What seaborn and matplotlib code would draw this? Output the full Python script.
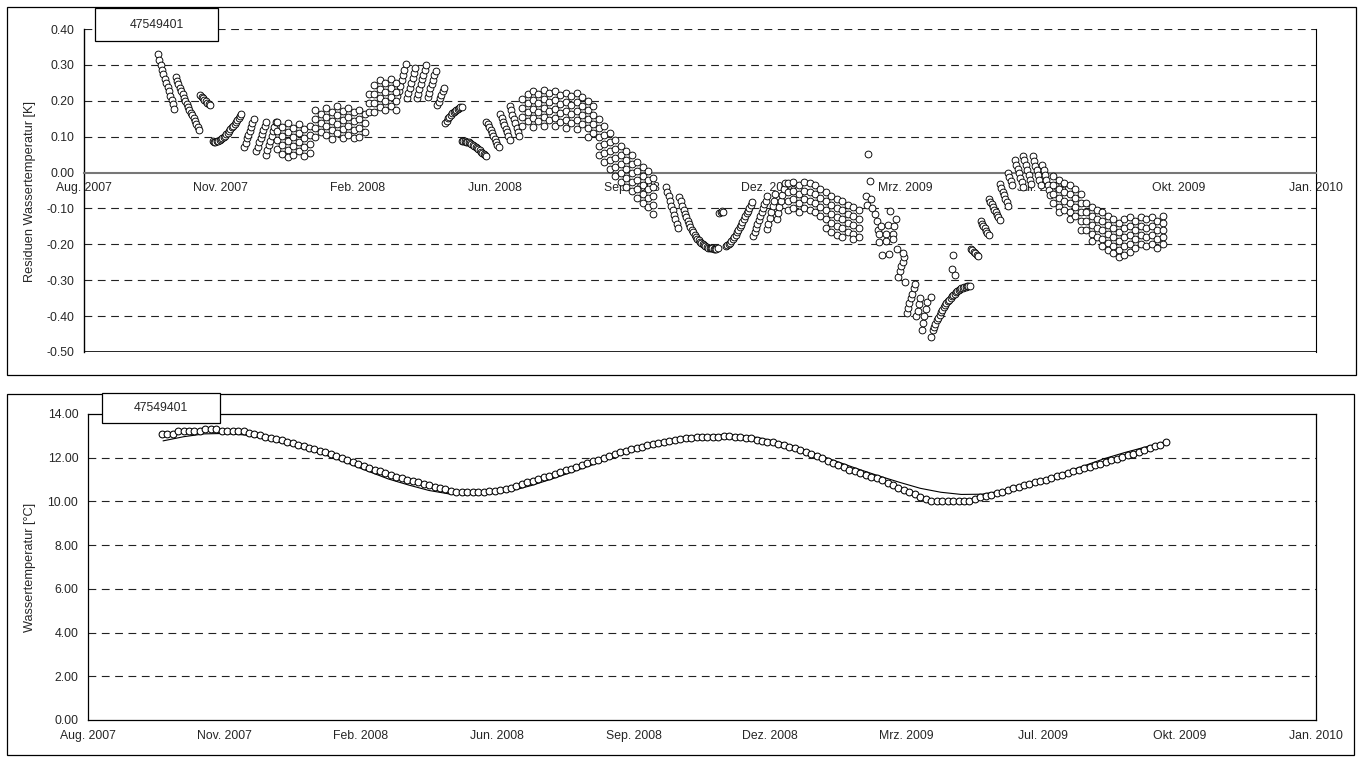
import numpy as np
import pandas as pd
import matplotlib
matplotlib.use("Agg")
import matplotlib.pyplot as plt
import matplotlib.dates as mdates
from matplotlib.patches import Rectangle
from matplotlib.ticker import FixedLocator, FuncFormatter
import seaborn as sns

# ==============================================
# DATEN
# ==============================================
MESSSTELLE = "47549401"
STARTDATUM = pd.Timestamp("2007-08-06")   # linker Achsenrand (Excel 39300)
ACHSE_TAGE = [0, 100, 200, 300, 400, 500, 600, 700, 800, 900]
MONATE = ["Jan.", "Feb.", "Mrz.", "Apr.", "Mai", "Jun.", "Jul.", "Aug.",
          "Sep.", "Okt.", "Nov.", "Dez."]

Y_RESID = [-0.5, -0.4, -0.3, -0.2, -0.1, 0.0, 0.1, 0.2, 0.3, 0.4]
Y_TEMP = [0, 2, 4, 6, 8, 10, 12, 14]

# Residuen: zusammenhaengende Tageslaeufe (erster Tag, Werte je Tag)
laeufe_2007 = [
    (54, [0.330, 0.315, 0.300, 0.287, 0.274, 0.262, 0.250, 0.238, 0.226, 0.214, 0.203, 0.190, 0.177]),
    (67, [0.265, 0.255, 0.246, 0.236, 0.227, 0.218, 0.209, 0.200, 0.191, 0.183, 0.175, 0.167,
          0.159, 0.151, 0.143, 0.135, 0.127, 0.119]),
    (85, [0.215, 0.211, 0.207, 0.203, 0.199, 0.195, 0.191, 0.187]),
    (94, [0.087, 0.086, 0.086, 0.087, 0.088, 0.090, 0.093, 0.096, 0.099, 0.103, 0.107, 0.111,
          0.116, 0.121, 0.126, 0.131, 0.136, 0.141, 0.147, 0.152, 0.158, 0.163]),
    (117, [0.072, 0.083, 0.095, 0.106, 0.117, 0.128, 0.139, 0.150]),
    (126, [0.060, 0.072, 0.084, 0.096, 0.108, 0.119, 0.131, 0.142]),
    (133, [0.050, 0.063, 0.076, 0.089, 0.102, 0.115, 0.128, 0.141]),
]

laeufe_2008 = [
    (229, [0.212, 0.227, 0.242, 0.257, 0.272, 0.287, 0.302]),
    (236, [0.208, 0.222, 0.236, 0.250, 0.264, 0.278, 0.292]),
    (243, [0.207, 0.220, 0.234, 0.247, 0.260, 0.273, 0.287, 0.300]),
    (251, [0.210, 0.222, 0.235, 0.247, 0.259, 0.271, 0.284]),
    (258, [0.188, 0.197, 0.207, 0.216, 0.226, 0.235]),
    (264, [0.138, 0.145, 0.151, 0.156, 0.161, 0.165, 0.169, 0.172, 0.175, 0.178, 0.180, 0.182, 0.184]),
    (276, [0.087, 0.087, 0.087, 0.086, 0.085, 0.084, 0.082, 0.080, 0.078, 0.075, 0.072, 0.069,
           0.066, 0.062, 0.058, 0.055, 0.051, 0.048, 0.045]),
    (294, [0.142, 0.134, 0.126, 0.118, 0.110, 0.102, 0.094, 0.086, 0.078, 0.070]),
    (304, [0.162, 0.152, 0.142, 0.132, 0.122, 0.112, 0.102, 0.092]),
    (311, [0.185, 0.173, 0.161, 0.149, 0.137, 0.125, 0.113, 0.101]),
    (425, [-0.040, -0.053, -0.066, -0.079, -0.092, -0.104, -0.117, -0.130, -0.142, -0.155]),
    (435, [-0.067, -0.080, -0.092, -0.104, -0.115, -0.125, -0.135, -0.144, -0.152, -0.160,
           -0.167, -0.173, -0.179, -0.184, -0.189, -0.193, -0.197, -0.200, -0.203, -0.205,
           -0.207, -0.209, -0.210, -0.211, -0.211, -0.212, -0.212, -0.212, -0.211]),
    (464, [-0.112, -0.110, -0.108, -0.110]),
    (469, [-0.205, -0.203, -0.200, -0.196, -0.191, -0.186, -0.180, -0.174, -0.167, -0.160,
           -0.152, -0.145, -0.138, -0.130, -0.122, -0.114, -0.106, -0.098, -0.090, -0.083]),
    (489, [-0.177, -0.166, -0.155, -0.144, -0.133, -0.122, -0.111, -0.100, -0.089, -0.078, -0.066]),
    (499, [-0.158, -0.142, -0.126, -0.110, -0.094, -0.078, -0.061]),
    (506, [-0.130, -0.113, -0.096, -0.079, -0.062, -0.045, -0.028]),
]

laeufe_2009 = [
    (595, [-0.290, -0.275, -0.260, -0.248, -0.236]),
    (601, [-0.390, -0.377, -0.364, -0.350, -0.337, -0.323, -0.310]),
    (608, [-0.400, -0.385, -0.367, -0.350]),
    (612, [-0.440, -0.420, -0.400, -0.380, -0.360]),
    (620, [-0.440, -0.430, -0.421, -0.412, -0.404, -0.396, -0.389, -0.382, -0.376, -0.370,
           -0.364, -0.359, -0.354, -0.349, -0.345, -0.341, -0.337, -0.333, -0.330, -0.327,
           -0.325, -0.323, -0.321, -0.319, -0.318, -0.317, -0.316, -0.316]),
    (648, [-0.213, -0.217, -0.221, -0.225, -0.229, -0.233]),
    (655, [-0.135, -0.142, -0.148, -0.155, -0.162, -0.168, -0.175]),
    (661, [-0.075, -0.082, -0.089, -0.096, -0.103, -0.110, -0.117, -0.124, -0.131]),
    (669, [-0.033, -0.043, -0.053, -0.063, -0.073, -0.083, -0.094]),
    (675, [0.000, -0.012, -0.024, -0.036]),
    (680, [0.034, 0.022, 0.010, -0.002, -0.014, -0.026, -0.040]),
    (686, [0.047, 0.034, 0.021, 0.008, -0.006, -0.020, -0.033]),
    (693, [0.045, 0.032, 0.019, 0.006, -0.008, -0.022, -0.036]),
    (700, [0.020, 0.007, -0.006, -0.020, -0.034, -0.048, -0.062]),
]

# Residuen: Punktgitter (Tag, Werte in dieser Spalte)
gitter_winter08 = [
    (141, [0.140, 0.115, 0.090, 0.065]), (145, [0.128, 0.103, 0.078, 0.053]),
    (149, [0.138, 0.113, 0.088, 0.063, 0.042]), (153, [0.125, 0.100, 0.075, 0.050]),
    (157, [0.135, 0.110, 0.085, 0.060]), (161, [0.122, 0.097, 0.072, 0.047]),
    (165, [0.130, 0.105, 0.080, 0.055]), (169, [0.175, 0.150, 0.125, 0.100]),
    (173, [0.163, 0.138, 0.113]), (177, [0.180, 0.155, 0.130, 0.105]),
    (181, [0.168, 0.143, 0.118, 0.093]), (185, [0.185, 0.160, 0.135, 0.110]),
    (189, [0.172, 0.147, 0.122, 0.097]), (193, [0.180, 0.155, 0.130, 0.105]),
    (197, [0.168, 0.143, 0.118, 0.095]), (201, [0.175, 0.150, 0.125, 0.100]),
    (205, [0.163, 0.138, 0.113]), (208, [0.220, 0.195, 0.170]),
    (212, [0.245, 0.220, 0.195, 0.170]), (216, [0.258, 0.233, 0.208, 0.183]),
    (220, [0.250, 0.225, 0.200, 0.175]), (224, [0.260, 0.235, 0.210, 0.185]),
    (228, [0.250, 0.225, 0.200, 0.175]),
]

gitter_sommer08 = [
    (320, [0.205, 0.180, 0.155, 0.130]), (324, [0.218, 0.193, 0.168, 0.143]),
    (328, [0.228, 0.203, 0.178, 0.153, 0.128]), (332, [0.218, 0.193, 0.168, 0.143]),
    (336, [0.230, 0.205, 0.180, 0.155, 0.130]), (340, [0.222, 0.197, 0.172, 0.147]),
    (344, [0.228, 0.203, 0.178, 0.153, 0.130]), (348, [0.215, 0.190, 0.165, 0.140]),
    (352, [0.222, 0.197, 0.172, 0.147, 0.125]), (356, [0.212, 0.187, 0.162, 0.137]),
    (360, [0.222, 0.197, 0.172, 0.147, 0.122]), (364, [0.210, 0.185, 0.160, 0.135]),
    (368, [0.200, 0.175, 0.150, 0.125, 0.100]), (372, [0.185, 0.160, 0.135, 0.110]),
    (376, [0.150, 0.125, 0.100, 0.075, 0.050]), (380, [0.130, 0.105, 0.080, 0.055, 0.030]),
    (384, [0.110, 0.085, 0.060, 0.035, 0.010]), (388, [0.090, 0.065, 0.040, 0.015, -0.010]),
    (392, [0.075, 0.050, 0.025, 0.000, -0.025]), (396, [0.060, 0.035, 0.010, -0.015, -0.040]),
    (400, [0.050, 0.025, 0.000, -0.025, -0.050]), (404, [0.030, 0.005, -0.020, -0.045, -0.070]),
    (408, [0.015, -0.010, -0.035, -0.060, -0.085]), (412, [0.005, -0.020, -0.045, -0.070, -0.095]),
    (416, [-0.015, -0.040, -0.065, -0.090, -0.115]),
]

gitter_winter09 = [
    (514, [-0.030, -0.055, -0.080, -0.105]), (518, [-0.025, -0.050, -0.075, -0.100]),
    (522, [-0.035, -0.060, -0.085, -0.110]), (526, [-0.025, -0.050, -0.075, -0.100]),
    (530, [-0.030, -0.055, -0.080, -0.105]), (534, [-0.035, -0.060, -0.085, -0.110]),
    (538, [-0.045, -0.070, -0.095, -0.120]), (542, [-0.055, -0.080, -0.105, -0.130, -0.155]),
    (546, [-0.065, -0.090, -0.115, -0.140, -0.165]), (550, [-0.075, -0.100, -0.125, -0.150, -0.175]),
    (554, [-0.080, -0.105, -0.130, -0.155, -0.180]), (558, [-0.090, -0.115, -0.140, -0.165]),
    (562, [-0.095, -0.120, -0.145, -0.170, -0.185]), (566, [-0.105, -0.130, -0.155, -0.180]),
]

gitter_sommer09 = [
    (708, [-0.010, -0.035, -0.060, -0.085]), (712, [-0.020, -0.045, -0.070, -0.095, -0.110]),
    (716, [-0.030, -0.055, -0.080, -0.105]), (720, [-0.035, -0.060, -0.085, -0.110, -0.130]),
    (724, [-0.045, -0.070, -0.095, -0.120]), (728, [-0.060, -0.085, -0.110, -0.135, -0.160]),
    (732, [-0.085, -0.110, -0.135, -0.160]), (736, [-0.095, -0.120, -0.145, -0.170, -0.190]),
    (740, [-0.105, -0.130, -0.155, -0.180]), (744, [-0.110, -0.135, -0.160, -0.185, -0.205]),
    (748, [-0.120, -0.145, -0.170, -0.195, -0.215]), (752, [-0.130, -0.155, -0.180, -0.205, -0.225]),
    (756, [-0.140, -0.165, -0.190, -0.215, -0.235]), (760, [-0.130, -0.155, -0.180, -0.205, -0.230]),
    (764, [-0.125, -0.150, -0.175, -0.200, -0.220]), (768, [-0.135, -0.160, -0.185, -0.210]),
    (772, [-0.125, -0.150, -0.175, -0.200]), (776, [-0.130, -0.155, -0.180, -0.205]),
    (780, [-0.125, -0.150, -0.175, -0.200]), (784, [-0.135, -0.160, -0.185, -0.210]),
    (788, [-0.120, -0.140, -0.160, -0.180, -0.200]),
]

# Residuen: Einzelwerte Maerz/April 2009
einzel_tage = [573, 574, 571, 572, 575, 576, 578, 579, 580, 582, 587, 592, 581, 586, 591,
               581, 586, 591, 583, 588, 589, 593, 594, 598, 600, 619, 619, 634, 635, 636]
einzel_werte = [0.053, -0.024, -0.065, -0.090, -0.075, -0.100, -0.115, -0.135, -0.160, -0.149,
                -0.146, -0.149, -0.172, -0.172, -0.170, -0.194, -0.190, -0.186, -0.231, -0.228,
                -0.106, -0.129, -0.212, -0.223, -0.306, -0.346, -0.459, -0.270, -0.230, -0.286]

# Wassertemperatur: Messwerte alle 4 Tage ab Tag 54
temp_tage = list(range(54, 791, 4))
temp_werte = [
    13.10, 13.10, 13.10, 13.20, 13.20, 13.20, 13.20, 13.20, 13.30, 13.30, 13.30, 13.20, 13.20,
    13.20, 13.20, 13.20, 13.15, 13.10, 13.05, 12.97, 12.92, 12.85, 12.80, 12.72, 12.67, 12.60,
    12.53, 12.46, 12.39, 12.32, 12.24, 12.15, 12.07, 11.98, 11.90, 11.81, 11.72, 11.63, 11.53,
    11.45, 11.37, 11.29, 11.21, 11.14, 11.07, 11.00, 10.93, 10.87, 10.80, 10.75, 10.68, 10.62,
    10.55, 10.50, 10.45, 10.42, 10.41, 10.41, 10.41, 10.42, 10.48, 10.50, 10.53, 10.58, 10.63,
    10.70, 10.78, 10.87, 10.95, 11.02, 11.10, 11.18, 11.27, 11.35, 11.43, 11.50, 11.58, 11.66,
    11.74, 11.83, 11.91, 12.00, 12.10, 12.18, 12.25, 12.32, 12.38, 12.44, 12.50, 12.56, 12.61,
    12.66, 12.72, 12.78, 12.83, 12.86, 12.90, 12.92, 12.93, 12.94, 12.94, 12.95, 12.95, 12.98,
    13.00, 12.97, 12.95, 12.92, 12.88, 12.83, 12.78, 12.74, 12.70, 12.64, 12.57, 12.50, 12.43,
    12.36, 12.28, 12.18, 12.08, 11.97, 11.86, 11.76, 11.66, 11.56, 11.46, 11.37, 11.30, 11.22,
    11.14, 11.06, 10.97, 10.86, 10.75, 10.63, 10.52, 10.42, 10.32, 10.20, 10.10, 10.02, 10.00,
    10.00, 10.00, 10.00, 10.00, 10.00, 10.02, 10.12, 10.18, 10.24, 10.30, 10.38, 10.45, 10.52,
    10.60, 10.66, 10.73, 10.80, 10.87, 10.94, 11.00, 11.07, 11.15, 11.23, 11.30, 11.38, 11.45,
    11.52, 11.59, 11.66, 11.73, 11.80, 11.88, 11.96, 12.03, 12.11, 12.19, 12.27, 12.35, 12.44,
    12.52, 12.60, 12.70,
]

# Wassertemperatur: Modellkurve alle 15 Tage ab Tag 55
modell_tage = list(range(55, 791, 15))
modell_werte = [
    12.77, 12.96, 13.09, 13.11, 13.04, 12.87, 12.63, 12.40, 12.10, 11.76,
    11.39, 11.03, 10.75, 10.50, 10.34, 10.33, 10.35, 10.48, 10.73, 11.03,
    11.35, 11.68, 12.02, 12.34, 12.63, 12.84, 12.98, 13.04, 13.03, 12.93,
    12.74, 12.48, 12.14, 11.80, 11.47, 11.16, 10.87, 10.60, 10.42, 10.32,
    10.33, 10.48, 10.70, 10.98, 11.31, 11.63, 11.96, 12.24, 12.49, 12.74,
]

# ==============================================
# FUNKTIONEN
# ==============================================

def tage_zu_datum(tage):
    return STARTDATUM + pd.to_timedelta(np.asarray(tage), unit="D")


def residuen_tabelle():
    """Alle Residuenpunkte in eine Tabelle (Datum, Wert)"""
    tage, werte = [], []
    for start, reihe in laeufe_2007 + laeufe_2008 + laeufe_2009:
        tage += list(range(start, start + len(reihe)))
        werte += reihe
    for tag, spalte in gitter_winter08 + gitter_sommer08 + gitter_winter09 + gitter_sommer09:
        tage += [tag] * len(spalte)
        werte += spalte
    tage += einzel_tage
    werte += einzel_werte
    return pd.DataFrame({"datum": tage_zu_datum(tage), "wert": werte})


def datum_format(v, pos):
    d = mdates.num2date(v)
    return f"{MONATE[d.month - 1]} {d.year}"


def achse_einrichten(ax, yticks, grid_werte):
    ticks = mdates.date2num(tage_zu_datum(ACHSE_TAGE))
    ax.set_xlim(ticks[0], ticks[-1])
    ax.xaxis.set_major_locator(FixedLocator(ticks))
    ax.xaxis.set_major_formatter(FuncFormatter(datum_format))
    ax.set_yticks(yticks)
    ax.yaxis.set_major_formatter(FuncFormatter(lambda v, p: f"{v:.2f}"))
    ax.tick_params(axis="both", direction="out", length=4, width=0.8,
                   labelsize=8.8, color="black", pad=3)
    for v in grid_werte:
        ax.axhline(v, color="#222222", lw=0.8, dashes=(7, 5), zorder=0.5)
    ax.set_xlabel("")
    ax.set_ylabel("")


def rahmen(fig, x0, y0, x1, y1, fuellen=False):
    W, H = 1360, 758
    fig.add_artist(Rectangle((x0 / W, 1 - y1 / H), (x1 - x0) / W, (y1 - y0) / H,
                             transform=fig.transFigure, fill=fuellen, facecolor="white",
                             edgecolor="black", lw=0.9, zorder=10))


# ==============================================
# MAIN
# ==============================================
sns.set_style("white")
plt.rcParams["font.family"] = ["Liberation Sans", "DejaVu Sans"]

resid = residuen_tabelle()
temp = pd.DataFrame({"datum": tage_zu_datum(temp_tage), "wert": temp_werte})
modell = pd.DataFrame({"datum": tage_zu_datum(modell_tage), "wert": modell_werte})

fig = plt.figure(figsize=(13.6, 7.58), dpi=100)
W, H = 1360, 758
ax1 = fig.add_axes([84 / W, 1 - 352 / H, (1316 - 84) / W, (352 - 29) / H])
ax2 = fig.add_axes([88 / W, 1 - 720 / H, (1316 - 88) / W, (720 - 414) / H])

# --- oben: Residuen
sns.scatterplot(data=resid, x="datum", y="wert", ax=ax1, color="white", edgecolor="black",
                linewidth=0.65, s=24, marker="o", zorder=3, legend=False)
ax1.set_ylim(-0.5, 0.4)
achse_einrichten(ax1, Y_RESID, [0.4, 0.3, 0.2, 0.1, -0.1, -0.2, -0.3, -0.4])
ax1.spines["bottom"].set_position(("data", 0))
ax1.spines["bottom"].set_color("#777777")
ax1.spines["bottom"].set_linewidth(1.5)
ax1.spines["top"].set_visible(False)
ax1.spines["left"].set_color("black")
ax1.spines["left"].set_linewidth(1.0)
ax1.spines["right"].set_color("black")
ax1.spines["right"].set_linewidth(0.8)
ax1.axhline(-0.5, color="black", lw=1.2, zorder=2)

# --- unten: Wassertemperatur
sns.lineplot(data=modell, x="datum", y="wert", ax=ax2, color="black", lw=0.8, zorder=2)
sns.scatterplot(data=temp, x="datum", y="wert", ax=ax2, color="white", edgecolor="black",
                linewidth=0.75, s=24, marker="o", zorder=3, legend=False)
ax2.set_ylim(0, 14)
achse_einrichten(ax2, Y_TEMP, [2, 4, 6, 8, 10, 12])
for seite in ["left", "bottom", "top", "right"]:
    ax2.spines[seite].set_color("black")
    ax2.spines[seite].set_linewidth(0.9)

# Rahmen, Beschriftungen
rahmen(fig, 7, 7, 1356, 375)
rahmen(fig, 7, 394, 1354, 755)
rahmen(fig, 95, 8, 218, 41, fuellen=True)
rahmen(fig, 102, 393, 220, 423, fuellen=True)
fig.text(156.5 / W, 1 - 24.5 / H, MESSSTELLE, ha="center", va="center", fontsize=8.8, zorder=11)
fig.text(161 / W, 1 - 408 / H, MESSSTELLE, ha="center", va="center", fontsize=8.8, zorder=11)
fig.text(30 / W, 1 - 191 / H, "Residuen Wassertemperatur [K]", rotation=90,
         ha="center", va="center", fontsize=9.2)
fig.text(30 / W, 1 - 567 / H, "Wassertemperatur [°C]", rotation=90,
         ha="center", va="center", fontsize=9.2)

fig.savefig("out.png", dpi=100)
plt.close(fig)
